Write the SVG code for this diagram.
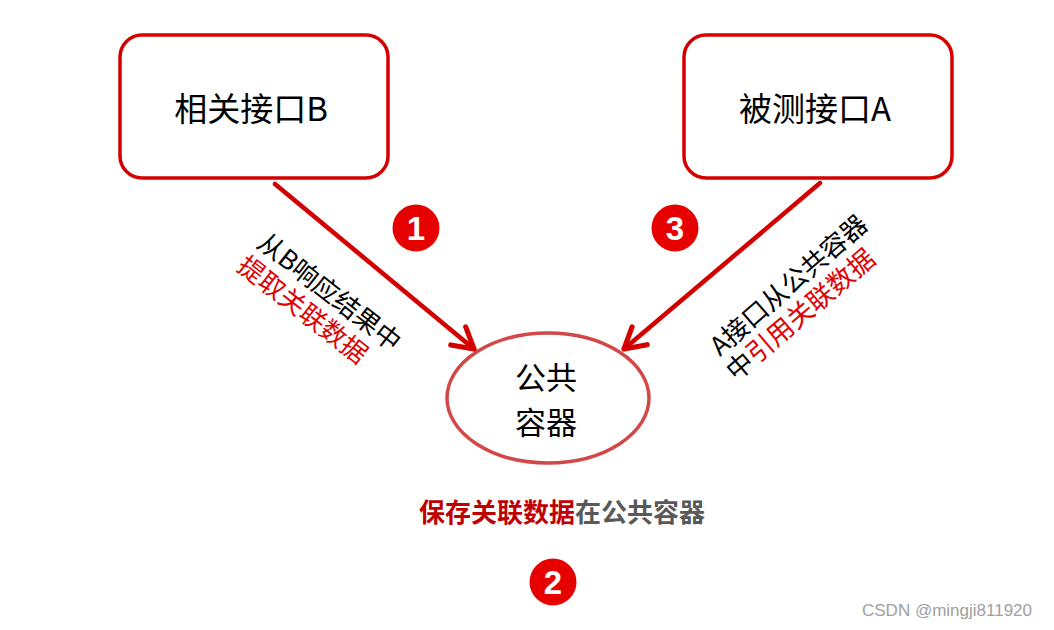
<svg xmlns="http://www.w3.org/2000/svg" width="1054" height="630" viewBox="0 0 1054 630">
<defs>
<style>
.box{fill:#fff;stroke:#d40000;stroke-width:3.5}
.t{font-family:"Noto Sans CJK SC","Noto Sans",sans-serif;fill:#000}
.red{fill:#e00000}
.conn{stroke:#d40000;stroke-width:4.5;fill:none;stroke-linecap:round}
.badge{fill:#e60000}
.bt{font-family:"Liberation Sans",Arial,sans-serif;font-weight:bold;fill:#fff;font-size:33px;text-anchor:middle}
</style>
<marker id="ah" viewBox="0 0 20 20" refX="17" refY="10" markerWidth="6.5" markerHeight="6.5" orient="auto" markerUnits="strokeWidth">
<path d="M3,2 L17,10 L3,18" fill="none" stroke="#d40000" stroke-width="3.5" stroke-linecap="round" stroke-linejoin="round"/>
</marker>
</defs>
<rect width="1054" height="630" fill="#fff"/>
<g id="nodeB">
<rect class="box" x="120" y="35" width="268" height="143" rx="22"/>
<text class="t" x="251" y="121" font-size="33" text-anchor="middle">相关接口B</text>
</g>
<g id="nodeA">
<rect class="box" x="684" y="35" width="268" height="143" rx="22"/>
<text class="t" x="815" y="121" font-size="33" text-anchor="middle">被测接口A</text>
</g>
<g id="container">
<ellipse cx="548" cy="398" rx="101" ry="65" fill="#fff" stroke="#d24848" stroke-width="3.5"/>
<text class="t" font-size="31" text-anchor="middle"><tspan x="546" y="389">公共</tspan><tspan x="546" y="434">容器</tspan></text>
</g>
<g id="connectors">
<line class="conn" x1="275" y1="184" x2="474" y2="349" marker-end="url(#ah)"/>
<line class="conn" x1="820" y1="183" x2="624" y2="349" marker-end="url(#ah)"/>
</g>
<g id="label1">
<text class="t" font-size="26" transform="translate(255.5,246) rotate(38)">从B响应结果中</text>
<text class="t red" font-size="26" transform="translate(235.5,269) rotate(38)">提取关联数据</text>
</g>
<g id="label3">
<text class="t" font-size="26" transform="translate(720,357) rotate(-41)">A接口从公共容器</text>
<text class="t" font-size="26.5" transform="translate(736,382) rotate(-40.5)">中<tspan class="red">引用关联数据</tspan></text>
</g>
<g id="label2">
<text font-family="'Noto Sans CJK SC',sans-serif" font-size="26" font-weight="bold" x="562" y="522" text-anchor="middle"><tspan fill="#c00000">保存关联数据</tspan><tspan fill="#595959">在公共容器</tspan></text>
</g>
<g id="badge1"><circle class="badge" cx="416" cy="228" r="23.5"/><text class="bt" x="416" y="240">1</text></g>
<g id="badge3"><circle class="badge" cx="675" cy="228" r="23.5"/><text class="bt" x="675" y="240">3</text></g>
<g id="badge2"><circle class="badge" cx="553" cy="582" r="23.5"/><text class="bt" x="553" y="594">2</text></g>
<text x="947" y="616" font-family="'Liberation Sans',Arial,sans-serif" font-size="17" fill="#a0a0a0" text-anchor="middle">CSDN @mingji811920</text>
</svg>
